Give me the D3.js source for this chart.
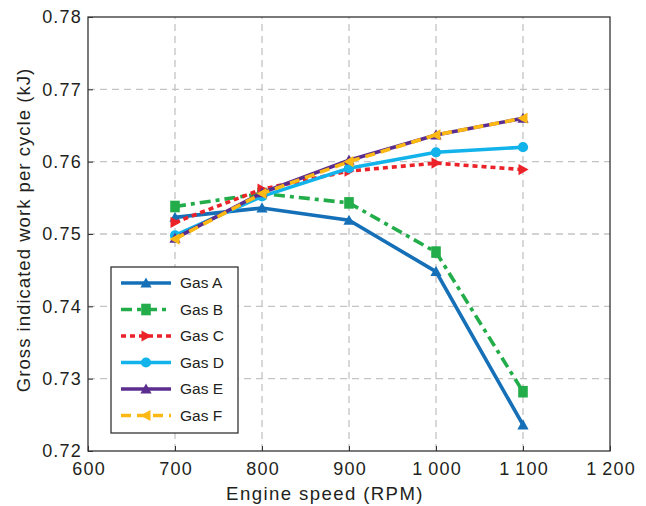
<!DOCTYPE html>
<html>
<head>
<meta charset="utf-8">
<script src="https://cdn.jsdelivr.net/npm/d3@7"></script>
<style>
  body { margin: 0; background: #fff; }
  svg { font-family: "Liberation Sans", Arial, sans-serif; }
</style>
</head>
<body>
<div class="graph"></div>
<script>
// engine speeds (RPM)
const speeds = [700, 800, 900, 1000, 1100];

// gross indicated work per cycle (kJ), one array per gas
const gasA = [0.7523, 0.7536, 0.7519, 0.7448, 0.7236];
const gasB = [0.7538, 0.7556, 0.7543, 0.7475, 0.7282];
const gasC = [0.7516, 0.7562, 0.7587, 0.7598, 0.7589];
const gasD = [0.7498, 0.7552, 0.7591, 0.7613, 0.7620];
const gasE = [0.7494, 0.7557, 0.7602, 0.7637, 0.7660];
const gasF = [0.7493, 0.7556, 0.7600, 0.7637, 0.7660];

const xTicks = [600, 700, 800, 900, 1000, 1100, 1200];
const yTicks = [0.72, 0.73, 0.74, 0.75, 0.76, 0.77, 0.78];

const series = [
  { name: "Gas A", values: gasA, color: "#1570b8", dash: null, marker: "up" },
  { name: "Gas B", values: gasB, color: "#22ad4a", dash: "11,5,4,5", marker: "square" },
  { name: "Gas C", values: gasC, color: "#ec2229", dash: "5,4", marker: "right" },
  { name: "Gas D", values: gasD, color: "#12b3ea", dash: null, marker: "circle" },
  { name: "Gas E", values: gasE, color: "#5a2d8f", dash: null, marker: "up" },
  { name: "Gas F", values: gasF, color: "#fcb813", dash: "10,6", marker: "left" },
];

const width = 646;
const height = 506;
const margin = { top: 17, right: 36, bottom: 55, left: 88 };

const svg = d3
  .select(".graph")
  .append("svg")
  .attr("width", width)
  .attr("height", height);

const x = d3.scaleLinear().domain([600, 1200]).range([margin.left, width - margin.right]);
const y = d3.scaleLinear().domain([0.72, 0.78]).range([height - margin.bottom, margin.top]);

const fmtX = (d) => (d >= 1000 ? String(d).replace(/^(\d)/, "$1\u2009") : String(d));

// grid lines
const grid = svg.append("g").attr("stroke", "#c4c4c4").attr("stroke-width", 1.3).attr("stroke-dasharray", "7,5");
grid
  .selectAll()
  .data(xTicks.slice(1, -1))
  .join("line")
  .attr("x1", (d) => x(d))
  .attr("x2", (d) => x(d))
  .attr("y1", y(0.72))
  .attr("y2", y(0.78));
grid
  .selectAll()
  .data(yTicks.slice(1, -1))
  .join("line")
  .attr("x1", x(600))
  .attr("x2", x(1200))
  .attr("y1", (d) => y(d))
  .attr("y2", (d) => y(d));

// axes
const xAxis = d3.axisBottom(x).tickValues(xTicks).tickFormat(fmtX).tickSizeInner(-5).tickSizeOuter(0).tickPadding(11);
const yAxis = d3.axisLeft(y).tickValues(yTicks).tickFormat(d3.format(".2f")).tickSizeInner(-5).tickSizeOuter(0).tickPadding(6);

const gx = svg.append("g").attr("transform", `translate(0,${y(0.72)})`).call(xAxis);
const gy = svg.append("g").attr("transform", `translate(${x(600)},0)`).call(yAxis);
[gx, gy].forEach((g) => {
  g.select(".domain").remove();
  g.selectAll("line").attr("stroke", "#333");
  g.selectAll("text").attr("font-size", 18).attr("letter-spacing", 1.2).attr("fill", "#231f20");
});
gx.selectAll("text").attr("dx", 0.6);

// frame
svg
  .append("rect")
  .attr("x", x(600))
  .attr("y", y(0.78))
  .attr("width", x(1200) - x(600))
  .attr("height", y(0.72) - y(0.78))
  .attr("fill", "none")
  .attr("stroke", "#333")
  .attr("stroke-width", 1.3);

// axis titles
svg
  .append("text")
  .attr("x", 325)
  .attr("y", height - 6)
  .attr("text-anchor", "middle")
  .attr("font-size", 18.6)
  .attr("letter-spacing", 1.4)
  .attr("fill", "#231f20")
  .text("Engine speed (RPM)");
svg
  .append("text")
  .attr("transform", `translate(30,${(y(0.72) + y(0.78)) / 2 - 4}) rotate(-90)`)
  .attr("text-anchor", "middle")
  .attr("font-size", 18.6)
  .attr("letter-spacing", 1)
  .attr("fill", "#231f20")
  .text("Gross indicated work per cycle (kJ)");

const markerPath = (type) => {
  const s = 5.6;
  if (type === "up") return `M0,${-s}L${s},${s * 0.8}L${-s},${s * 0.8}Z`;
  if (type === "right") return `M${s},0L${-s * 0.8},${-s}L${-s * 0.8},${s}Z`;
  if (type === "left") return `M${-s},0L${s * 0.8},${-s}L${s * 0.8},${s}Z`;
  if (type === "square") return "M-4.8,-5.8H4.8V5.8H-4.8Z";
  return d3.symbol(d3.symbolCircle, 82)();
};

const line = d3
  .line()
  .x((d, i) => x(speeds[i]))
  .y((d) => y(d));

const plot = svg.append("g");
series.forEach((s) => {
  const g = plot.append("g");
  g.append("path")
    .attr("d", line(s.values))
    .attr("fill", "none")
    .attr("stroke", s.color)
    .attr("stroke-width", 3.6)
    .attr("stroke-dasharray", s.dash);
  g.selectAll()
    .data(s.values)
    .join("path")
    .attr("transform", (d, i) => `translate(${x(speeds[i])},${y(d)})`)
    .attr("d", markerPath(s.marker))
    .attr("fill", s.color);
});

// legend
const legend = svg.append("g").attr("transform", "translate(111,267)");
legend
  .append("rect")
  .attr("width", 127)
  .attr("height", 166)
  .attr("fill", "#fff")
  .attr("stroke", "#333")
  .attr("stroke-width", 1.3);
const row = legend
  .selectAll()
  .data(series)
  .join("g")
  .attr("transform", (d, i) => `translate(0,${16 + i * 26.5})`);
row
  .append("line")
  .attr("x1", 10)
  .attr("x2", 60)
  .attr("stroke", (d) => d.color)
  .attr("stroke-width", 3.6)
  .attr("stroke-dasharray", (d) => d.dash);
row
  .append("path")
  .attr("transform", "translate(35,0)")
  .attr("d", (d) => markerPath(d.marker))
  .attr("fill", (d) => d.color);
row
  .append("text")
  .attr("x", 69)
  .attr("dy", "0.35em")
  .attr("font-size", 15.5)
  .attr("fill", "#231f20")
  .text((d) => d.name);
</script>
</body>
</html>
